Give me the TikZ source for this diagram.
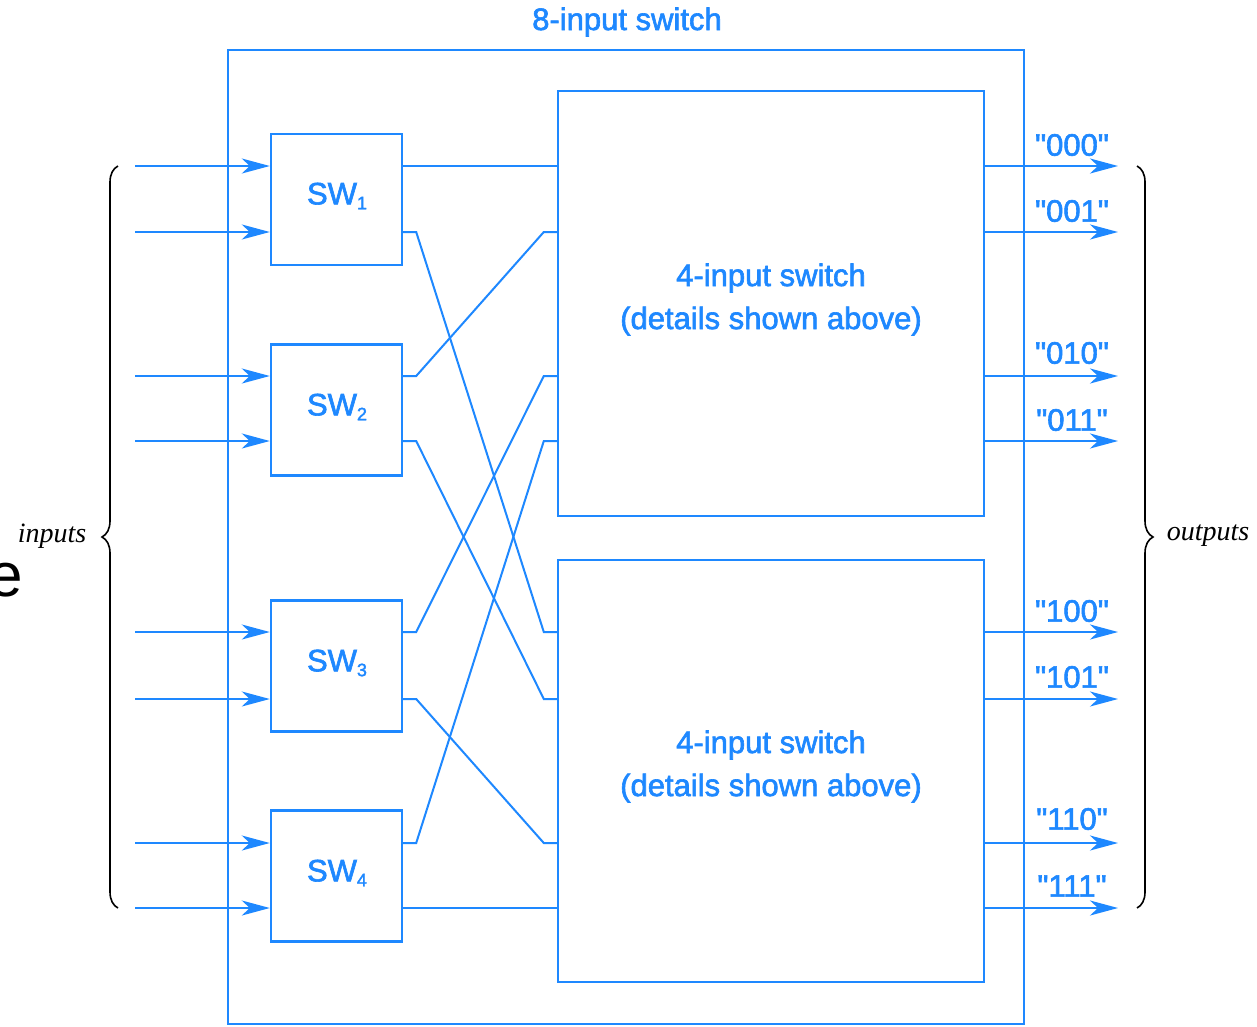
\documentclass[tikz,border=0pt]{standalone}
\usepackage{fontspec}
\setmainfont{Liberation Sans}
\newfontfamily\lblfont[FakeBold=2]{Liberation Sans}
\newfontfamily\serifit{Liberation Serif}
\usetikzlibrary{arrows.meta,decorations.pathreplacing}
\definecolor{sblue}{RGB}{30,136,255}
\newcommand\sq{\char34\relax}
\begin{document}
\begin{tikzpicture}[x=1pt,y=-1pt,
  box/.style={draw=sblue, line width=2.4pt, inner sep=0pt},
  wire/.style={draw=sblue, line width=2pt},
  arr/.style={wire, -{Stealth[length=28pt,width=15pt,inset=8pt]}},
  lbl/.style={text=sblue, font=\lblfont\fontsize{31}{36}\selectfont, inner sep=0pt},
  olbl/.style={lbl},
  brc/.style={draw=black, line width=1.6pt, decorate, decoration={brace, amplitude=16pt}},
  side/.style={font=\serifit\itshape\fontsize{28}{32}\selectfont, inner sep=0pt}]
\useasboundingbox (0,0) rectangle (1257,1026);
\fill[white] (0,0) rectangle (1257,1026);

% outer box and title
\node[box, minimum width=796pt, minimum height=974pt] (outer) at (626,537) {};
\node[lbl] (title) at (627,22) {8-input switch};

% small switches
\node[box, minimum width=131pt, minimum height=131pt] (sw1) at (336.5,199.5) {};
\node[box, minimum width=131pt, minimum height=131pt] (sw2) at (336.5,410) {};
\node[box, minimum width=131pt, minimum height=131pt] (sw3) at (336.5,666) {};
\node[box, minimum width=131pt, minimum height=131pt] (sw4) at (336.5,876) {};
\node[lbl] (t1) at (337,196) {SW\raisebox{-0.3ex}{\fontsize{18}{18}\selectfont 1}};
\node[lbl] (t2) at (337,407) {SW\raisebox{-0.3ex}{\fontsize{18}{18}\selectfont 2}};
\node[lbl] (t3) at (337,663) {SW\raisebox{-0.3ex}{\fontsize{18}{18}\selectfont 3}};
\node[lbl] (t4) at (337,873) {SW\raisebox{-0.3ex}{\fontsize{18}{18}\selectfont 4}};

% big switches
\node[box, minimum width=426pt, minimum height=425pt] (up) at (771,303.5) {};
\node[box, minimum width=426pt, minimum height=422pt] (lo) at (771,771) {};
\node[lbl] (ut1) at (771,278) {4-input switch};
\node[lbl] (ut2) at (771,321) {(details shown above)};
\node[lbl] (lt1) at (771,745) {4-input switch};
\node[lbl] (lt2) at (771,788) {(details shown above)};

% input ends
\coordinate (in1) at (135,166);
\coordinate (in2) at (135,232);
\coordinate (in3) at (135,376);
\coordinate (in4) at (135,441);
\coordinate (in5) at (135,632);
\coordinate (in6) at (135,699);
\coordinate (in7) at (135,843);
\coordinate (in8) at (135,908);

\draw[arr] (in1) -- (in1 -| sw1.west);
\draw[arr] (in2) -- (in2 -| sw1.west);
\draw[arr] (in3) -- (in3 -| sw2.west);
\draw[arr] (in4) -- (in4 -| sw2.west);
\draw[arr] (in5) -- (in5 -| sw3.west);
\draw[arr] (in6) -- (in6 -| sw3.west);
\draw[arr] (in7) -- (in7 -| sw4.west);
\draw[arr] (in8) -- (in8 -| sw4.west);

% switch outputs
\coordinate (s1) at (in1 -| sw1.east);
\coordinate (s2) at (in2 -| sw1.east);
\coordinate (s3) at (in3 -| sw2.east);
\coordinate (s4) at (in4 -| sw2.east);
\coordinate (s5) at (in5 -| sw3.east);
\coordinate (s6) at (in6 -| sw3.east);
\coordinate (s7) at (in7 -| sw4.east);
\coordinate (s8) at (in8 -| sw4.east);
% big switch inputs
\coordinate (u1) at (in1 -| up.west);
\coordinate (u2) at (in2 -| up.west);
\coordinate (u3) at (in3 -| up.west);
\coordinate (u4) at (in4 -| up.west);
\coordinate (l1) at (in5 -| lo.west);
\coordinate (l2) at (in6 -| lo.west);
\coordinate (l3) at (in7 -| lo.west);
\coordinate (l4) at (in8 -| lo.west);

\draw[wire] (s1) -- (u1);
\draw[wire] (s2) -- ++(13,0) -- ([xshift=-13pt]l1) -- (l1);
\draw[wire] (s3) -- ++(13,0) -- ([xshift=-13pt]u2) -- (u2);
\draw[wire] (s4) -- ++(13,0) -- ([xshift=-13pt]l2) -- (l2);
\draw[wire] (s5) -- ++(13,0) -- ([xshift=-13pt]u3) -- (u3);
\draw[wire] (s6) -- ++(13,0) -- ([xshift=-13pt]l3) -- (l3);
\draw[wire] (s7) -- ++(13,0) -- ([xshift=-13pt]u4) -- (u4);
\draw[wire] (s8) -- (l4);

% outputs
\coordinate (o1) at (1118,166);
\coordinate (o2) at (1118,232);
\coordinate (o3) at (1118,376);
\coordinate (o4) at (1118,441);
\coordinate (o5) at (1118,632);
\coordinate (o6) at (1118,699);
\coordinate (o7) at (1118,843);
\coordinate (o8) at (1118,908);
\draw[arr] (o1 -| up.east) -- (o1);
\draw[arr] (o2 -| up.east) -- (o2);
\draw[arr] (o3 -| up.east) -- (o3);
\draw[arr] (o4 -| up.east) -- (o4);
\draw[arr] (o5 -| lo.east) -- (o5);
\draw[arr] (o6 -| lo.east) -- (o6);
\draw[arr] (o7 -| lo.east) -- (o7);
\draw[arr] (o8 -| lo.east) -- (o8);
\node[olbl] (ol1) at (1072,145) {\sq000\sq};
\node[olbl] (ol2) at (1072,211) {\sq001\sq};
\node[olbl] (ol3) at (1072,353) {\sq010\sq};
\node[olbl] (ol4) at (1072,420) {\sq011\sq};
\node[olbl] (ol5) at (1072,611) {\sq100\sq};
\node[olbl] (ol6) at (1072,677) {\sq101\sq};
\node[olbl] (ol7) at (1072,819) {\sq110\sq};
\node[olbl] (ol8) at (1072,886) {\sq111\sq};

% braces
\draw[brc] (118,908) -- (118,166);
\draw[brc] (1137,166) -- (1137,908);
\node[side] (inl) at (52,536) {inputs};
\node[side] (outl) at (1208,536) {outputs};

\node[anchor=base east, font=\fontsize{62}{70}\selectfont, inner sep=0pt] (e) at (23,596) {e};
\end{tikzpicture}
\end{document}
